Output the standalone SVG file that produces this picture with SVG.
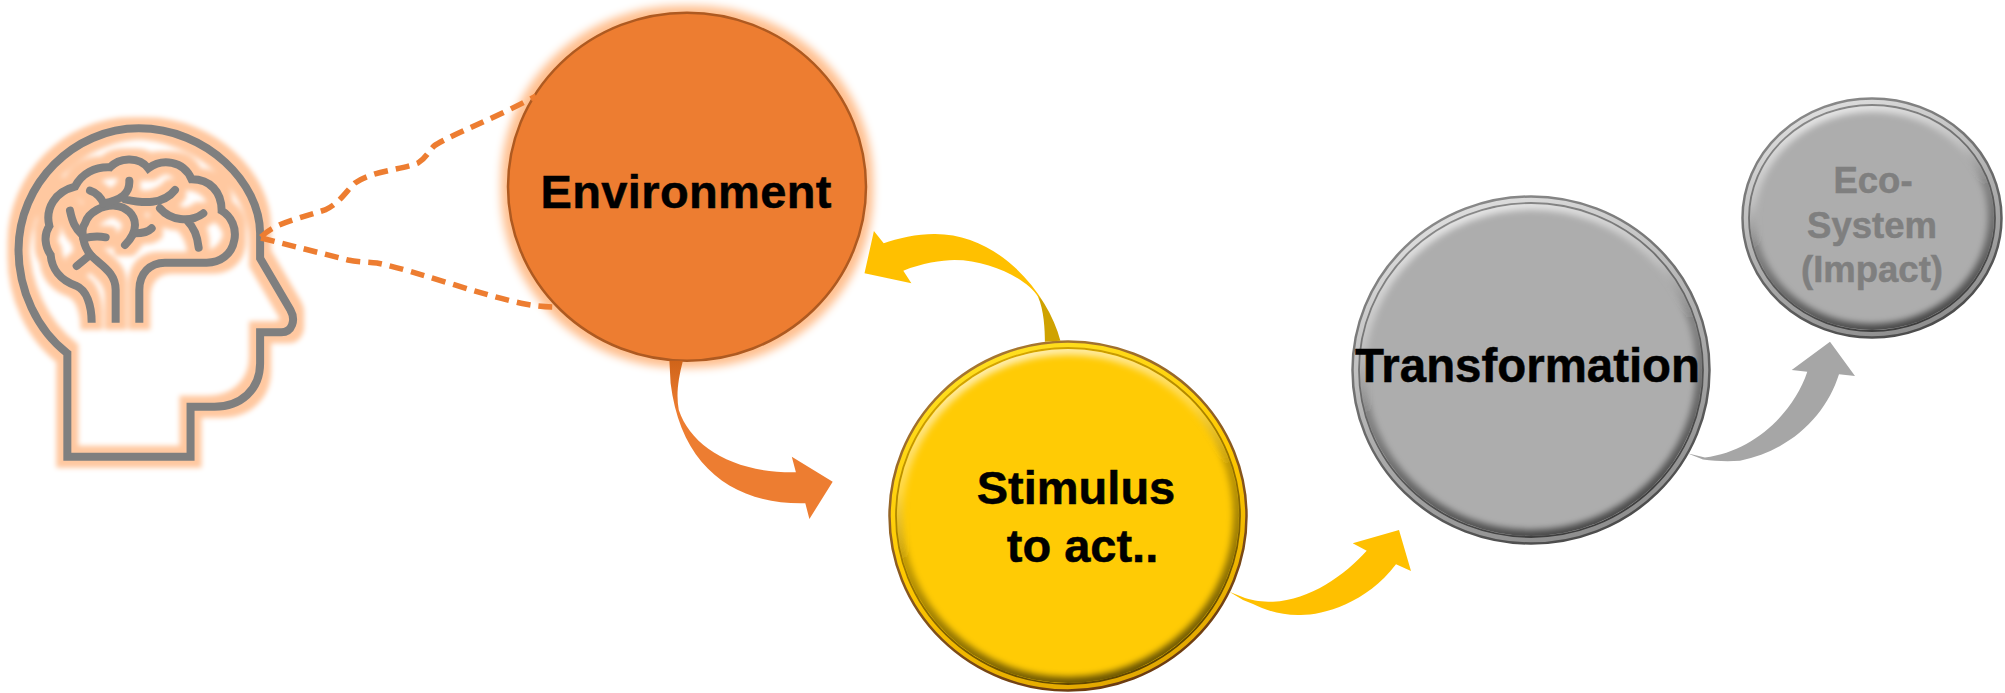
<svg xmlns="http://www.w3.org/2000/svg" width="2005" height="693" viewBox="0 0 2005 693">
<style>
text{font-family:"Liberation Sans",Arial,sans-serif;font-weight:700;fill:#000;stroke:#000;stroke-width:.5}
.t{font-size:47px;text-anchor:middle}
.e{font-size:36.5px;text-anchor:middle;fill:#7f7f7f;stroke:#7f7f7f}
.h{fill:none;stroke:#7f7f7f;stroke-width:8;vector-effect:non-scaling-stroke;stroke-linejoin:miter}
.b{stroke-linecap:round;stroke-linejoin:round}
.d{fill:none;stroke:#ED7D31;stroke-width:5.500;stroke-dasharray:14 8}
</style>
<defs>
<filter id="glow" x="-15%" y="-15%" width="130%" height="130%" color-interpolation-filters="sRGB">
<feMorphology in="SourceAlpha" operator="dilate" radius="7" result="m"/>
<feGaussianBlur in="m" stdDeviation="2.500" result="g"/>
<feFlood flood-color="#FFC8A0"/>
<feComposite in2="g" operator="in" result="c"/>
<feMerge><feMergeNode in="c"/><feMergeNode in="SourceGraphic"/></feMerge>
</filter>
<filter id="glow2" x="-15%" y="-15%" width="130%" height="130%" color-interpolation-filters="sRGB">
<feMorphology in="SourceAlpha" operator="dilate" radius="6" result="m"/>
<feGaussianBlur in="m" stdDeviation="4.500" result="g"/>
<feFlood flood-color="#FFC090"/>
<feComposite in2="g" operator="in" result="c"/>
<feMerge><feMergeNode in="c"/><feMergeNode in="SourceGraphic"/></feMerge>
</filter>
<filter id="soft" x="-10%" y="-10%" width="120%" height="120%"><feGaussianBlur stdDeviation="3"/></filter>
<linearGradient id="bev" x1="0.35" y1="0" x2="0.65" y2="1">
<stop offset="0" stop-color="#fff" stop-opacity=".7"/>
<stop offset=".3" stop-color="#fff" stop-opacity=".25"/>
<stop offset=".5" stop-color="#000" stop-opacity=".25"/>
<stop offset="1" stop-color="#000" stop-opacity=".6"/>
</linearGradient>
<linearGradient id="ringG" x1="0.3" y1="0" x2="0.7" y2="1">
<stop offset="0" stop-color="#E0E0E0"/><stop offset=".5" stop-color="#B0B0B0"/><stop offset="1" stop-color="#8C8C8C"/>
</linearGradient>
<linearGradient id="ringY" x1="0.3" y1="0" x2="0.7" y2="1">
<stop offset="0" stop-color="#FFE020"/><stop offset=".5" stop-color="#FFC800"/><stop offset="1" stop-color="#E0A500"/>
</linearGradient>
<linearGradient id="lineG" x1="0.3" y1="0" x2="0.7" y2="1">
<stop offset="0" stop-color="#8a8a8a"/><stop offset="1" stop-color="#3a3a3a"/>
</linearGradient>
<linearGradient id="lineY" x1="0.3" y1="0" x2="0.7" y2="1">
<stop offset="0" stop-color="#D8A800"/><stop offset="1" stop-color="#5A4200"/>
</linearGradient>
<linearGradient id="edgeG" x1="0.3" y1="0" x2="0.7" y2="1">
<stop offset="0" stop-color="#8a8a8a"/><stop offset="1" stop-color="#4a4a4a"/>
</linearGradient>
<linearGradient id="edgeY" x1="0.3" y1="0" x2="0.7" y2="1">
<stop offset="0" stop-color="#A87830"/><stop offset="1" stop-color="#6A3A10"/>
</linearGradient>
<linearGradient id="tailO" gradientUnits="userSpaceOnUse" x1="0" y1="360" x2="0" y2="410">
<stop offset="0" stop-color="#CF6318"/><stop offset="1" stop-color="#ED7D31"/>
</linearGradient>
<linearGradient id="tailY" gradientUnits="userSpaceOnUse" x1="0" y1="295" x2="0" y2="300">
<stop offset="0" stop-color="#FFC000"/><stop offset="1" stop-color="#CFA200"/>
</linearGradient>
<clipPath id="cS"><ellipse cx="1068" cy="516" rx="171" ry="167"/></clipPath>
<clipPath id="cT"><ellipse cx="1531" cy="370" rx="171" ry="166"/></clipPath>
<clipPath id="cE"><ellipse cx="1872" cy="218" rx="122" ry="112"/></clipPath>
</defs>

<g id="head" filter="url(#glow)">
<g transform="matrix(0.37 0 0 0.3333 0 90)">
<path class="h" d="M182 1100V790C100 720 50 600 50 480C50 280 200 115 375 115C560 115 703 280 703 430V505L785 660C800 690 790 727 760 727H703V820C703 900 650 950 580 950H515V1100Z"/>
</g>
<g transform="translate(40 140) scale(.3333)">
<path class="h" d="M155 548C155 495 140 450 108 437C60 420 35 385 32 345C15 320 10 285 28 258C15 205 45 155 105 140C125 100 165 80 210 82C235 55 295 45 325 85C365 55 430 60 455 118C510 118 545 155 545 212C575 230 590 265 583 300C575 345 540 368 500 368H375C330 368 298 400 298 450V548"/>
<path class="h" d="M227 548V450C227 395 180 375 152 345"/>
<path class="h b" d="M152 345C130 320 120 270 135 250C145 215 190 195 225 197C260 200 285 225 285 255C285 280 270 300 255 315"/>
<path class="h b" d="M90 212C97 245 105 265 127 285M130 295C150 290 175 288 197 292M150 345L110 378M285 280C305 280 325 275 335 265M150 152C170 158 185 175 190 190M268 122C270 160 245 180 190 190M255 178C310 190 370 195 405 150M360 205C390 240 450 250 490 220M440 240C465 265 473 290 476 323"/>
</g>
</g>

<g id="environment">
<ellipse cx="687" cy="186.700" rx="179" ry="174" fill="#ED7D31" stroke="#AE5A21" stroke-width="2.500" filter="url(#glow2)"/>
<text x="686" y="208" class="t" textLength="291" lengthAdjust="spacing">Environment</text>
</g>

<g id="stimulus">
<ellipse cx="1068" cy="516" rx="178.500" ry="174.500" fill="url(#ringY)" stroke="url(#edgeY)" stroke-width="2.500"/>
<ellipse cx="1068" cy="516" rx="172" ry="168" fill="#FFCB05" stroke="url(#lineY)" stroke-width="1.800"/>
<g clip-path="url(#cS)"><ellipse cx="1068" cy="516" rx="171" ry="167" fill="none" stroke="url(#bev)" stroke-width="12" filter="url(#soft)"/></g>
<text x="1076" y="503.500" class="t">Stimulus</text>
<text x="1082.500" y="562.300" class="t">to act..</text>
</g>

<g id="transformation">
<ellipse cx="1531" cy="370" rx="178.500" ry="173.500" fill="url(#ringG)" stroke="url(#edgeG)" stroke-width="2.500"/>
<ellipse cx="1531" cy="370" rx="172" ry="167" fill="#ADADAD" stroke="url(#lineG)" stroke-width="1.800"/>
<g clip-path="url(#cT)"><ellipse cx="1531" cy="370" rx="171" ry="166" fill="none" stroke="url(#bev)" stroke-width="12" filter="url(#soft)"/></g>
<text x="1527.500" y="381.700" class="t" style="font-size:48.500px" textLength="345" lengthAdjust="spacingAndGlyphs">Transformation</text>
</g>

<g id="ecosystem">
<ellipse cx="1872" cy="218" rx="129.500" ry="119.500" fill="url(#ringG)" stroke="url(#edgeG)" stroke-width="2.500"/>
<ellipse cx="1872" cy="218" rx="123" ry="113" fill="#ADADAD" stroke="url(#lineG)" stroke-width="1.800"/>
<g clip-path="url(#cE)"><ellipse cx="1872" cy="218" rx="122" ry="112" fill="none" stroke="url(#bev)" stroke-width="12" filter="url(#soft)"/></g>
<text x="1873" y="193.300" class="e">Eco-</text>
<text x="1872" y="238.300" class="e">System</text>
<text x="1872" y="282.300" class="e">(Impact)</text>
</g>

<g id="connectors">
<path class="d" d="M261 237C272 226 285 222 325 210C340 203 347 190 355 183C372 171 400 170 418 163C426 158 428 152 434 146C444 138 500 116 536 96"/>
<path class="d" d="M261 238L348 260C358 262 368 262 377 263C420 272 480 295 525 304C536 306 546 307 557 307"/>
<path fill="url(#tailO)" d="M669.400 360.700H682.900C678 380 676 395 678.800 410C691 446.700 733.900 473.300 795.900 472.300L791.800 456.700L832.700 481.700L809.400 519L805.300 503.300C733.900 505 680.800 466.700 670.600 383.300Z"/>
<path fill="url(#tailY)" d="M1060.400 340.700C1048 293.300 999 233.300 934 234C917.600 234 897 238.300 883.700 243.300L873.900 231L864.500 273.300L911.400 283.300L903.300 270.700C921.600 263.300 942 260 954.300 260C991 260 1027.800 280 1038 296.700C1044 310 1044.900 330 1044.900 341.700Z"/>
<path fill="#FFC000" d="M1229.300 591.700L1245 598C1255 601 1262 601.700 1273 601.700C1310 600 1345 575 1366.700 550.700L1352.700 543.300L1399 530L1411 571L1396 564.300C1365 605 1320 616 1298 615C1280 615 1265 610 1253 604L1243 600Z"/>
<path fill="#A6A6A6" d="M1687.300 453.300L1705 457.500C1753.300 451.700 1793.300 413.300 1807.300 371.700L1791.700 370L1830 341.700L1855 376L1839 374.300C1826.700 413.300 1793 450 1740 460.700C1726.700 461.700 1715 461 1703 459.500Z"/>
</g>
</svg>
